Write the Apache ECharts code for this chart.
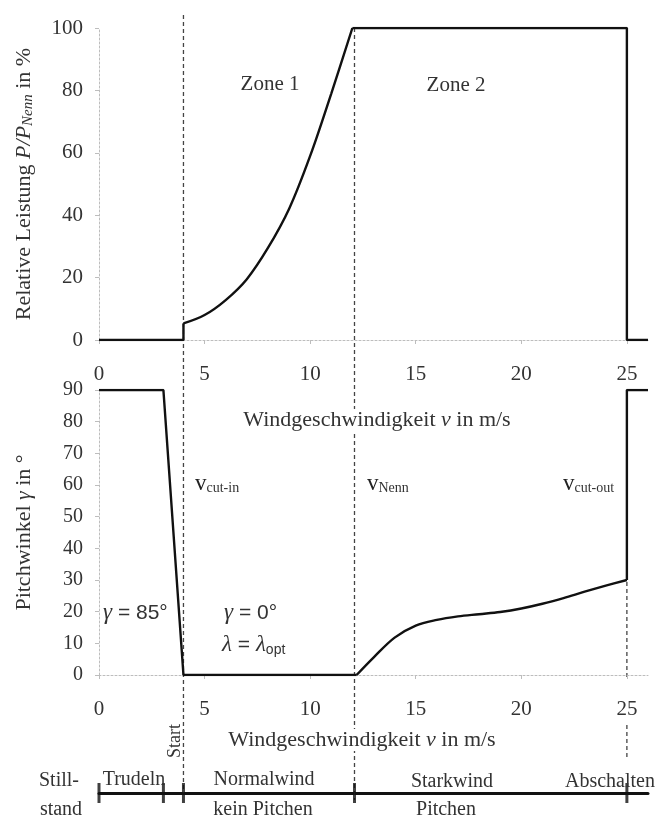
<!DOCTYPE html>
<html>
<head>
<meta charset="utf-8">
<script src="https://cdn.jsdelivr.net/npm/echarts@6/dist/echarts.min.js"></script>
<style>
  html, body { margin: 0; padding: 0; background: #fff; }
  #chart { width: 659px; height: 818px; }
</style>
</head>
<body>
<div id="chart"></div>
<script>
// Relative power P/P_Nenn (%) over wind speed v (m/s)
const powerSpeed = [0, 4, 4, 5, 6, 7, 8, 9, 10, 11, 12, 25, 25, 26];
const powerValue = [0, 0, 5.3, 8, 12.8, 19.5, 29.5, 42, 59, 79, 100, 100, 0, 0];
// index range of the power curve that follows the smooth rise (zone 1)
const powerRise = [2, 10];

// Pitch angle gamma (deg) over wind speed v (m/s)
const pitchSpeed = [0, 3.05, 4, 12.2, 13, 14, 15, 16, 17, 18, 19, 20, 21, 22, 23, 24, 25, 25, 26];
const pitchValue = [90, 90, 0, 0, 5.5, 11.8, 15.6, 17.4, 18.5, 19.2, 19.9, 21, 22.5, 24.3, 26.3, 28.2, 30, 90, 90];
// index range of the pitch-controlled part (zone 2)
const pitchRise = [3, 16];

// Axis ticks
const speedTicks = [0, 5, 10, 15, 20, 25];
const speedMax = 26;
const powerTicks = [0, 20, 40, 60, 80, 100];
const pitchTicks = [0, 10, 20, 30, 40, 50, 60, 70, 80, 90];

// Characteristic speeds and operating phase boundaries
const vCutIn = 4;
const vNenn = 12.1;
const vCutOut = 25;
const phaseBounds = [0, 3.05, vCutIn, vNenn, vCutOut];

const SERIF = '"Liberation Serif", "Times New Roman", serif';
const SANS = '"Liberation Sans", Arial, sans-serif';
const INK = '#111';
const TXT = '#333';

const pairs = (xs, ys) => xs.map((x, i) => [x, ys[i]]);
const step = a => a[1] - a[0];

// page height in px, used by the full-height guide layer
const PAGE_H = 818;

const gridBox = { left: 99, right: 11 };

function valueAxis(ticks, extra) {
  return Object.assign({
    type: 'value',
    min: ticks[0],
    max: ticks[ticks.length - 1],
    interval: step(ticks),
    splitLine: { show: false },
    axisLine: { show: true, lineStyle: { color: '#bdbdbd', type: [2, 2], width: 1 } },
    axisTick: { show: true, length: 4, lineStyle: { color: '#bdbdbd' } },
    axisLabel: { color: TXT, fontFamily: SERIF, fontSize: 21, margin: 16 }
  }, extra || {});
}

function speedAxis(gridIndex, extra) {
  return Object.assign({
    type: 'value',
    gridIndex,
    min: speedTicks[0],
    max: speedMax,
    interval: step(speedTicks),
    splitLine: { show: false },
    axisLine: { show: true, onZero: false, lineStyle: { color: '#bdbdbd', type: [2, 2], width: 1 } },
    axisTick: { show: true, length: 4, lineStyle: { color: '#bdbdbd' } },
    axisLabel: { color: TXT, fontFamily: SERIF, fontSize: 21, margin: 24, showMaxLabel: false },
    z: 5
  }, extra || {});
}

const nameRich = {
  n: { fontFamily: SERIF, fontSize: 22, color: TXT },
  i: { fontFamily: SERIF, fontSize: 22, color: TXT, fontStyle: 'italic' }
};

const yNameRich = {
  n: { fontFamily: SERIF, fontSize: 22, color: TXT, lineHeight: 24 },
  i: { fontFamily: SERIF, fontSize: 22, color: TXT, fontStyle: 'italic', lineHeight: 24 },
  s: { fontFamily: SERIF, fontSize: 15, color: TXT, fontStyle: 'italic', verticalAlign: 'bottom', lineHeight: 12 }
};

const dashed = { color: '#444', width: 1.3, type: [4, 3] };

function guide(points) {
  return {
    type: 'line', xAxisIndex: 3, yAxisIndex: 3, data: points,
    symbol: 'none', silent: true, z: 1, connectNulls: false,
    lineStyle: dashed
  };
}

// one curve drawn as straight lead-in, smooth middle part and straight tail
function curvePieces(xs, ys, range, axisIndex) {
  const pts = pairs(xs, ys);
  const base = {
    type: 'line', xAxisIndex: axisIndex, yAxisIndex: axisIndex,
    symbol: 'none', z: 6, silent: true,
    lineStyle: { color: INK, width: 2.4 }
  };
  return [
    Object.assign({}, base, { data: pts.slice(0, range[0] + 1) }),
    Object.assign({}, base, { data: pts.slice(range[0], range[1] + 1), smooth: 0.35 }),
    Object.assign({}, base, { data: pts.slice(range[1]) })
  ];
}

const option = {
  animation: false,
  backgroundColor: '#fff',
  grid: [
    Object.assign({ top: 28, height: 312 }, gridBox),
    Object.assign({ top: 390, height: 285 }, gridBox),
    Object.assign({ top: 783, height: 20 }, gridBox),
    Object.assign({ top: 0, height: PAGE_H }, gridBox)
  ],
  xAxis: [
    speedAxis(0, {
      name: '{n|Windgeschwindigkeit }{i|v}{n| in m/s}',
      nameLocation: 'middle', nameGap: 69,
      nameTextStyle: { rich: nameRich, backgroundColor: '#fff', padding: [0, 0, 0, 7] }
    }),
    speedAxis(1, {
      name: '{n|Windgeschwindigkeit }{i|v}{n| in m/s}',
      nameLocation: 'middle', nameGap: 54,
      nameTextStyle: { rich: nameRich, backgroundColor: '#fff', padding: [0, 23, 0, 0] }
    }),
    {
      type: 'value', gridIndex: 2, min: speedTicks[0], max: speedMax,
      axisLine: { show: true, onZero: true, lineStyle: { color: INK, width: 3 } },
      axisTick: { show: false }, axisLabel: { show: false }, splitLine: { show: false }
    },
    {
      type: 'value', gridIndex: 3, min: speedTicks[0], max: speedMax, show: false
    }
  ],
  yAxis: [
    valueAxis(powerTicks, {
      gridIndex: 0,
      name: '{n|Relative Leistung }{i|P/P}{s|Nenn}{n| in %}',
      nameLocation: 'middle', nameGap: 63,
      nameTextStyle: { rich: yNameRich }
    }),
    valueAxis(pitchTicks, {
      gridIndex: 1,
      axisLabel: { color: TXT, fontFamily: SERIF, fontSize: 20, margin: 16 },
      name: '{n|Pitchwinkel }{i|γ}{n| in °}',
      nameLocation: 'middle', nameGap: 63,
      nameTextStyle: { rich: yNameRich }
    }),
    { type: 'value', gridIndex: 2, min: -1, max: 1, show: false },
    { type: 'value', gridIndex: 3, min: 0, max: PAGE_H, inverse: true, show: false }
  ],
  series: [].concat(
    curvePieces(powerSpeed, powerValue, powerRise, 0),
    curvePieces(pitchSpeed, pitchValue, pitchRise, 1),
    [
      {
        type: 'scatter', xAxisIndex: 2, yAxisIndex: 2,
        data: phaseBounds.map(v => [v, 0]),
        symbol: 'rect', symbolSize: [3, 20], z: 6, silent: true,
        itemStyle: { color: INK }
      },
      guide([[vCutIn, 15], [vCutIn, 793]]),
      guide([[vNenn, 28], [vNenn, 800]]),
      guide([[vCutOut, 540], [vCutOut, 677], [vCutOut, '-'], [vCutOut, 725], [vCutOut, 757]])
    ]
  ),
  graphic: []
};

// text annotations
const serifTxt = (text, x, y, size, align) => ({
  type: 'text', x, y, silent: true, z: 10,
  style: { text, font: size + 'px ' + SERIF, fill: TXT, align: align || 'center', verticalAlign: 'middle' }
});

const speedLabel = (main, sub, x, y) => ({
  type: 'text', x, y, silent: true, z: 10,
  style: {
    text: '{v|' + main + '}{s|' + sub + '}',
    align: 'left', verticalAlign: 'middle',
    rich: {
      v: { fontFamily: SERIF, fontSize: 23, fill: '#222', lineHeight: 22 },
      s: { fontFamily: SERIF, fontSize: 14, fill: TXT, verticalAlign: 'bottom', lineHeight: 10 }
    }
  }
});

const greekRich = {
  g: { fontFamily: SERIF, fontSize: 23, fontStyle: 'italic', fill: TXT, lineHeight: 24 },
  t: { fontFamily: SANS, fontSize: 21, fill: TXT, lineHeight: 24 },
  s: { fontFamily: SANS, fontSize: 14, fill: TXT, verticalAlign: 'bottom', lineHeight: 12 }
};
const greekLabel = (text, x, y) => ({
  type: 'text', x, y, silent: true, z: 10,
  style: { text, align: 'left', verticalAlign: 'middle', rich: greekRich }
});

option.graphic = [
  serifTxt('Zone 1', 270, 84, 21),
  serifTxt('Zone 2', 456, 85, 21),
  speedLabel('v', 'cut-in', 195, 484),
  speedLabel('v', 'Nenn', 367, 484),
  speedLabel('v', 'cut-out', 563, 484),
  greekLabel('{g|γ}{t| = 85°}', 103, 613),
  greekLabel('{g|γ}{t| = 0°}', 224, 613),
  greekLabel('{g|λ}{t| = }{g|λ}{s|opt}', 222, 645),
  Object.assign(serifTxt('Start', 175, 741, 18), { rotation: Math.PI / 2 }),
  serifTxt('Still-', 59, 781, 20),
  serifTxt('stand', 61, 810, 20),
  serifTxt('Trudeln', 134, 780, 20),
  serifTxt('Normalwind', 264, 780, 20),
  serifTxt('kein Pitchen', 263, 810, 20),
  serifTxt('Starkwind', 452, 782, 20),
  serifTxt('Pitchen', 446, 810, 20),
  serifTxt('Abschalten', 610, 782, 20)
];

const chart = echarts.init(document.getElementById('chart'), null, { renderer: 'canvas' });
chart.setOption(option);
</script>
</body>
</html>
